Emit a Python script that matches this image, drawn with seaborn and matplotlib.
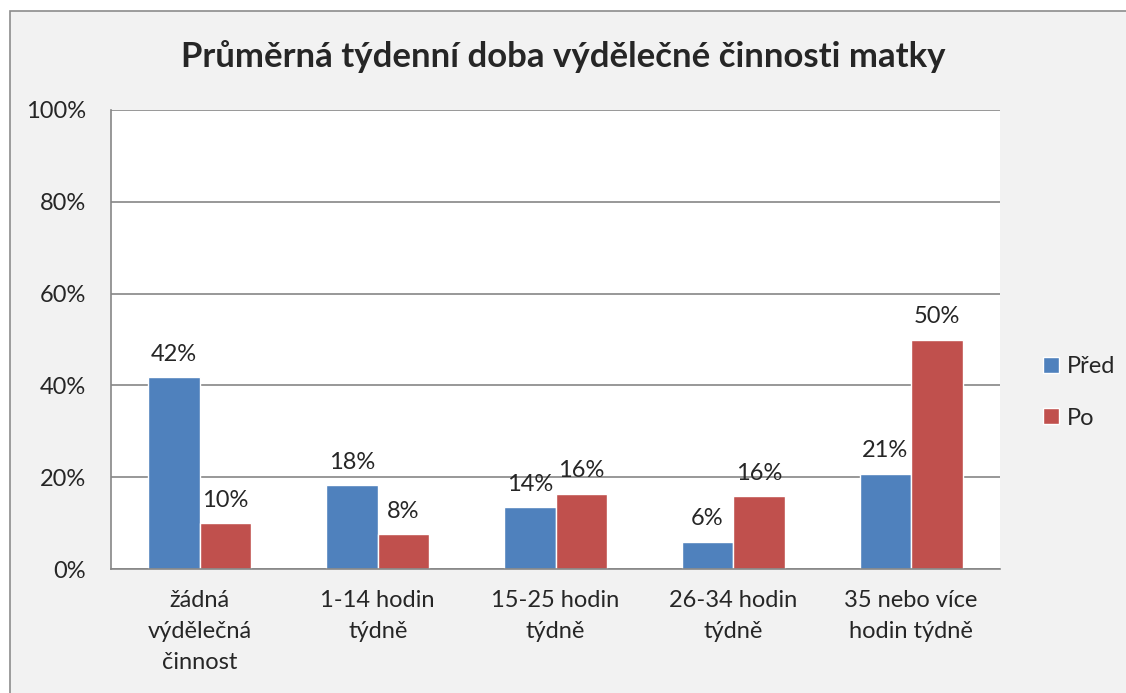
import matplotlib
matplotlib.use('Agg')
import matplotlib.pyplot as plt
from matplotlib.patches import Rectangle
import seaborn as sns
import pandas as pd

categories = ['žádná\nvýdělečná\nčinnost', '1-14 hodin\ntýdně', '15-25 hodin\ntýdně',
              '26-34 hodin\ntýdně', '35 nebo více\nhodin týdně']
pred = [41.8, 18.3, 13.5, 5.9, 20.7]
po = [10.0, 7.6, 16.4, 15.9, 49.9]
series = ['Před', 'Po']
colors = ['#4F81BD', '#C0504D']

df = pd.DataFrame({
	'kategorie': categories * 2,
	'hodnota': pred + po,
	'obdobi': [series[0]] * len(categories) + [series[1]] * len(categories),
})

sns.set_style('white')
plt.rcParams['font.family'] = ['Lato', 'DejaVu Sans']

fig = plt.figure(figsize=(11.26, 6.93), dpi=100, facecolor='white')
# chart area background with border (cut off at right/bottom like the original)
fig.patches.append(Rectangle((10 / 1126, -0.05), 1.2, (693 - 11) / 693 + 0.05,
	transform=fig.transFigure, facecolor='#F2F2F2', edgecolor='#8C8C8C', lw=1.2, zorder=-10))

ax = fig.add_axes([111 / 1126, 1 - 569 / 693, 889 / 1126, 459 / 693])
sns.barplot(data=df, x='kategorie', y='hodnota', hue='obdobi', palette=colors,
	width=0.58, ax=ax, saturation=1, legend=True)

for cont, vals in zip(ax.containers, [pred, po]):
	ax.bar_label(cont, labels=['{}%'.format(round(v)) for v in vals], padding=9, fontsize=17)

ax.set_ylim(0, 100)
ax.set_yticks(range(0, 101, 20))
ax.set_yticklabels(['{}%'.format(t) for t in range(0, 101, 20)], fontsize=17)
ax.tick_params(axis='x', labelsize=17, pad=15, length=0)
ax.tick_params(axis='y', pad=18, length=0)
for lbl in ax.get_xticklabels():
	lbl.set_linespacing(1.6)
ax.set_xlabel('')
ax.set_ylabel('')
ax.yaxis.grid(True, color='#868686', lw=1.2)
ax.set_axisbelow(True)
for s in ['top', 'right']:
	ax.spines[s].set_visible(False)
for s in ['left', 'bottom']:
	ax.spines[s].set_color('#868686')
	ax.spines[s].set_linewidth(1.2)
ax.set_facecolor('white')

leg = ax.legend(loc='center left', bbox_to_anchor=(1.025, 0.385), frameon=False,
	fontsize=17, handlelength=0.65, handleheight=0.65, labelspacing=1.3, handletextpad=0.35)

fig.text(0.5, 1 - 57 / 693, 'Průměrná týdenní doba výdělečné činnosti matky',
	ha='center', va='center', fontsize=25, fontweight='bold')

fig.savefig('out.png', dpi=100, facecolor=fig.get_facecolor())
plt.close(fig)
